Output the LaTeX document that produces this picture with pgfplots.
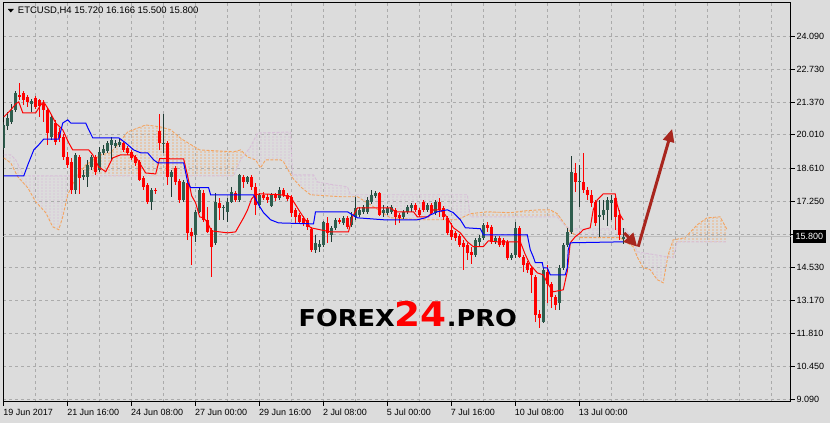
\documentclass[border=0pt]{standalone}
\usepackage{fontspec}
\setmainfont{Liberation Sans}
\newfontfamily\dejavu{DejaVu Sans}
\usepackage{graphicx}
\usepackage{xcolor}
\usepackage{pgfplots}
\pgfplotsset{compat=1.18}
\usepackage{pgfplotstable}
\usepgfplotslibrary{fillbetween}
\usetikzlibrary{patterns,arrows.meta}

\definecolor{bg}{HTML}{DCDCDC}
\definecolor{gridc}{HTML}{ABABAB}
\definecolor{sandy}{HTML}{F4A460}
\definecolor{thist}{HTML}{D8BFD8}
\definecolor{bullc}{HTML}{2F5E4E}
\definecolor{bullw}{HTML}{1F3A33}
\definecolor{arrowc}{HTML}{A8261E}
\definecolor{pricel}{HTML}{BDBDBD}
\pagecolor{bg}

\pgfdeclarepatternformonly{vhatch}{\pgfqpoint{0bp}{0bp}}{\pgfqpoint{4bp}{3bp}}{\pgfqpoint{4bp}{3bp}}{%
  \pgfsetlinewidth{0.8bp}%
  \pgfpathmoveto{\pgfqpoint{2bp}{0bp}}%
  \pgfpathlineto{\pgfqpoint{2bp}{2bp}}%
  \pgfusepath{stroke}}

\pgfplotstableread{
i o h l c
0 19.47 20.54 19.39 20.42
1 20.38 20.96 20.21 20.71
2 20.54 21.29 20.46 21.04
3 21.04 21.82 20.96 21.74
4 21.66 22.15 21.45 21.57
5 21.74 21.82 21.24 21.45
6 21.57 21.66 21.16 21.37
7 21.29 21.49 20.96 21.41
8 21.53 21.61 21.08 21.16
9 21.45 21.49 20.75 21.20
10 21.29 21.45 20.54 21.04
11 21.04 21.12 19.60 20.09
12 19.93 20.83 19.80 20.75
13 20.50 20.63 19.60 19.72
14 20.13 20.30 19.72 19.88
15 19.93 20.05 18.98 19.10
16 19.10 19.31 18.65 18.77
17 18.90 19.06 17.58 17.74
18 17.74 19.27 17.58 19.18
19 19.10 19.18 17.58 18.24
20 18.28 18.57 18.15 18.36
21 18.28 18.98 17.87 18.77
22 18.69 19.18 18.57 19.10
23 19.10 19.18 18.36 18.48
24 18.57 19.51 18.48 19.31
25 19.27 19.60 19.18 19.43
26 19.35 19.76 19.27 19.68
27 19.60 19.93 18.98 19.80
28 19.55 19.80 19.47 19.68
29 19.60 19.84 19.51 19.72
30 19.68 19.76 19.31 19.39
31 19.47 19.55 19.18 19.27
32 19.31 19.39 18.98 19.06
33 19.10 19.18 18.73 18.85
34 18.90 18.98 18.11 18.15
35 18.24 18.32 17.74 17.87
36 17.95 18.03 17.17 17.25
37 17.25 17.82 16.92 17.74
38 17.74 17.82 17.58 17.70
39 20.17 20.88 19.39 19.68
40 19.64 20.88 19.27 19.68
41 19.68 19.76 17.95 18.28
42 18.28 18.57 17.45 18.48
43 18.65 18.73 17.95 18.07
44 18.11 18.20 17.21 17.33
45 17.33 18.15 17.25 18.07
46 18.03 18.11 15.68 15.97
47 16.01 16.18 14.65 15.85
48 15.89 16.92 15.60 16.84
49 16.84 17.82 16.79 17.74
50 17.62 17.74 16.42 16.51
51 16.51 17.04 15.97 16.01
52 16.09 16.18 14.16 15.39
53 15.56 17.62 15.48 17.25
54 17.21 17.41 16.51 17.00
55 17.00 17.12 16.51 17.04
56 16.84 17.41 16.42 17.25
57 17.25 17.87 17.21 17.66
58 17.62 17.70 17.25 17.33
59 17.33 18.40 17.25 18.36
60 18.28 18.36 17.82 18.07
61 18.07 18.32 17.99 18.28
62 18.28 18.36 17.74 17.87
63 17.87 18.03 16.71 17.12
64 17.12 17.62 17.00 17.54
65 17.54 17.66 17.33 17.41
66 17.45 17.58 17.21 17.33
67 17.08 17.62 17.04 17.54
68 17.54 17.62 17.29 17.41
69 17.41 17.87 17.33 17.74
70 17.74 17.82 17.45 17.54
71 17.54 17.62 17.29 17.37
72 17.45 17.54 16.63 16.79
73 16.92 17.00 16.38 16.63
74 16.71 16.79 16.34 16.42
75 16.59 16.67 16.26 16.38
76 16.51 16.59 16.09 16.22
77 16.14 16.22 15.19 15.27
78 15.27 15.89 15.15 15.56
79 15.39 15.68 15.19 15.52
80 15.48 16.46 15.39 16.42
81 16.38 16.63 15.56 15.97
82 15.89 16.26 15.60 16.18
83 16.18 16.59 16.09 16.51
84 16.51 16.59 16.34 16.42
85 16.38 16.67 16.30 16.59
86 16.59 16.67 16.14 16.22
87 16.30 16.84 16.22 16.63
88 16.63 17.45 16.51 17.00
89 16.71 17.04 16.63 16.92
90 16.84 17.12 16.75 17.04
91 16.84 17.45 16.75 17.33
92 17.25 17.74 17.17 17.54
93 17.49 17.70 17.41 17.62
94 17.62 17.66 16.67 16.71
95 16.79 17.12 16.63 16.92
96 16.79 17.08 16.71 17.00
97 16.84 17.12 16.75 17.04
98 16.92 17.00 16.30 16.63
99 16.71 16.79 16.38 16.59
100 16.63 16.92 16.55 16.84
101 16.84 17.12 16.75 17.04
102 17.00 17.21 16.84 17.12
103 17.12 17.21 16.84 16.92
104 16.92 17.00 16.63 16.71
105 17.25 17.33 16.84 16.92
106 16.92 17.21 16.84 17.12
107 17.12 17.21 16.71 16.79
108 16.79 17.33 16.71 17.25
109 17.25 17.41 16.63 16.92
110 17.00 17.08 16.51 16.63
111 16.59 16.67 15.89 15.97
112 16.09 16.38 15.68 15.81
113 15.97 16.05 15.64 15.76
114 15.85 15.93 15.39 15.48
115 15.56 15.68 14.45 15.39
116 15.48 15.56 14.86 15.15
117 15.19 15.39 14.69 15.06
118 15.06 15.76 14.98 15.68
119 15.60 15.89 15.39 15.76
120 15.76 16.38 15.68 16.30
121 16.30 16.42 16.01 16.18
122 16.22 16.30 15.52 15.60
123 15.60 15.85 15.52 15.76
124 15.76 15.85 15.39 15.48
125 15.68 15.76 15.39 15.48
126 15.60 15.68 14.86 14.94
127 14.94 15.15 14.86 15.06
128 15.06 16.42 14.94 16.18
129 16.18 16.26 14.94 14.98
130 14.98 15.06 14.36 14.65
131 14.73 14.82 14.32 14.45
132 14.53 14.61 13.50 14.24
133 14.16 14.24 12.30 12.59
134 12.63 12.80 12.06 12.47
135 12.30 14.53 12.26 14.45
136 14.36 14.65 13.09 13.87
137 13.87 13.95 12.88 13.33
138 13.33 13.42 12.80 13.00
139 13.09 14.65 12.80 14.53
140 14.53 15.56 14.45 15.48
141 15.48 16.18 15.39 16.01
142 16.01 19.14 15.93 18.48
143 18.44 18.85 17.66 18.07
144 18.07 18.77 17.04 18.11
145 18.07 19.27 17.62 17.74
146 17.74 17.87 17.33 17.54
147 17.54 17.74 17.04 17.21
148 17.25 17.33 16.26 16.38
149 16.63 17.33 15.81 16.71
150 16.71 17.33 16.51 16.92
151 16.92 17.45 16.26 17.33
152 17.21 17.54 16.51 17.33
153 17.41 17.49 16.09 16.63
154 16.71 16.92 15.68 15.89
155 15.72 16.166 15.50 15.80
}\candles

\pgfplotstableread{
i p
0 19.06
1.75 18.85
3.5 18.28
6 17.83
8 17.25
10.5 16.80
12.25 16.22
13.75 16.10
14.75 16.63
16 17.54
18 18.24
20.5 18.77
24.25 19.19
26.75 19.27
31 20.13
35.5 20.42
39.25 20.34
41.75 20.22
44.5 19.84
49 19.39
57.5 19.31
59.25 19.39
61 19.10
63 18.98
64.25 18.65
65.5 18.98
69.25 18.98
70 18.90
72.25 18.24
74.25 17.87
76.75 17.54
84.25 17.46
88.5 17.46
91.75 17.13
96.75 16.59
104.25 16.51
113.5 16.51
116.75 16.76
121 16.84
126.75 16.80
130.5 16.88
134.25 16.92
136.75 16.92
138.5 16.76
140.5 16.30
141.75 16.01
144.25 15.77
154.25 15.77
156 15.56
157.5 15.40
158.5 14.98
160 14.53
161.75 14.45
163.5 14.04
165 13.91
166.25 15.07
167.5 15.68
170.5 15.77
173.5 16.30
176 16.59
179.25 16.63
181 16.10
}\spanA

\pgfplotstableread{
i p
0 19.19
1.75 19.19
3 18.98
4.25 18.57
5 18.32
57.5 18.32
59.25 18.98
61.75 19.52
63.5 20.09
71.75 20.13
72.25 18.36
77.5 18.36
78.5 18.07
82.5 17.95
86 17.87
86.75 17.54
116 17.54
116.75 16.63
138.5 16.63
140.5 16.26
141.75 16.14
155.5 16.14
157.25 15.68
158.5 15.19
167.5 14.94
168.5 15.60
181 15.60
}\spanB

\pgfplotstableread{
i p
0 20.75
1.75 21.04
3 21.29
3.75 21.37
4.75 20.92
8 20.92
9.25 21.25
10 21.37
11.25 21.04
13 20.50
14.75 20.22
16.25 19.68
17.25 19.39
21.25 19.39
22.25 19.19
23.75 18.69
25.5 18.49
27.25 19.06
29.25 19.19
32.25 19.19
33.5 18.98
35.5 18.44
38 18.40
39 19.03
45 19.02
46 18.32
47 17.50
48 17.21
49 16.63
50 16.59
51 16.38
52 16.05
56 15.97
58 16.01
59 16.30
60 16.59
61 16.92
62 17.37
63 17.54
64.25 17.58
69.25 17.54
71.75 17.46
73 17.13
74.25 16.80
76.75 16.18
81.75 16.01
86.25 16.01
87.25 16.63
88.5 17.00
96.75 17.00
98 16.84
102.5 16.84
103.5 16.63
106.25 16.63
107.5 16.92
109.25 16.92
110.5 16.71
112.5 16.18
114.25 15.97
116 15.60
117.5 15.40
120 15.40
121.25 15.64
123.5 15.60
129.25 15.60
130.5 15.07
131.75 14.65
133.5 14.32
135 14.24
136 13.91
137.5 13.54
140 13.62
141 14.37
141.75 15.56
143 15.81
144.25 15.97
145 16.10
146.75 16.18
147.5 16.92
148.5 17.33
150 17.58
153 17.58
153.5 17.13
154.25 16.71
155 16.50
}\tenkan

\pgfplotstableread{
i p
0 18.32
5 18.32
6 18.77
7.5 19.39
8.75 19.60
10 19.84
13.75 19.84
14.75 20.50
16 20.63
16.75 20.50
20.5 20.50
21.25 20.22
22.25 19.89
28.75 19.89
30.5 19.68
32.5 19.39
34.25 19.27
36 19.27
37.5 18.98
38.5 18.86
45 18.86
46 18.07
46.75 17.83
51.25 17.83
51.75 17.54
62.5 17.54
63.75 17.13
65 16.80
66.75 16.51
68.75 16.38
77.5 16.34
78 16.84
86 16.84
87.25 16.71
88.5 16.59
95 16.51
103.5 16.51
105.5 16.59
106.75 16.71
108.5 16.84
111 16.92
112.5 16.80
114.25 16.51
115.5 16.18
119.25 16.14
120 15.89
131 15.89
131.75 15.27
132.5 14.98
133 14.74
134.75 14.74
135 14.53
136 14.53
136.75 14.24
140.5 14.24
141 14.53
141.25 15.27
141.75 15.56
155 15.60
}\kijun

\begin{document}
\begin{tikzpicture}
\path (0,0) rectangle (830bp,423bp);
\begin{axis}[
  at={(2.5bp,21bp)}, anchor=south west,
  scale only axis, width=788bp, height=399.5bp,
  xmin=-0.125, xmax=196.875, ymin=9.01, ymax=25.47,
  axis line style={black, line width=1bp},
  xtick={0,16,32,48,64,80,96,112,128,144},
  xticklabels={19 Jun 2017,21 Jun 16:00,24 Jun 08:00,27 Jun 00:00,29 Jun 16:00,2 Jul 08:00,5 Jul 00:00,7 Jul 16:00,10 Jul 08:00,13 Jul 00:00},
  minor xtick={8,24,40,56,72,88,104,120,136,152,160,168,176,184,192},
  ytick={24.09,22.73,21.37,20.01,18.61,17.25,15.89,14.53,13.17,11.81,10.45,9.09},
  yticklabels={24.090,22.730,21.370,20.010,18.610,17.250,{},14.530,13.170,11.810,10.450,9.090},
  xtick pos=left, ytick pos=right, yticklabel pos=right,
  tick align=outside, major tick length=4bp, minor tick length=0bp,
  tick style={black, line width=0.8bp},
  xmajorgrids, xminorgrids, ymajorgrids,
  major grid style={gridc, dash pattern=on 3bp off 3bp, line width=0.8bp},
  minor grid style={gridc, dash pattern=on 3bp off 3bp, line width=0.8bp},
  ticklabel style={font=\fontsize{9bp}{10bp}\selectfont, text=black},
  xticklabel style={anchor=north west, xshift=-4bp},
  yticklabel style={xshift=-1.5bp},
]
% Ichimoku cloud (Senkou spans)
\addplot[draw=none, forget plot, name path=SA] table[x=i, y=p] {\spanA};
\addplot[draw=none, forget plot, name path=SB] table[x=i, y=p] {\spanB};
\addplot[draw=none, forget plot, pattern=vhatch, pattern color=sandy]
  fill between[of=SA and SB, split,
    every even segment/.style={pattern=vhatch, pattern color=thist},
    every odd segment/.style={pattern=vhatch, pattern color=sandy}];
\addplot[sandy, line width=0.9bp, dash pattern=on 3bp off 1.5bp, forget plot] table[x=i, y=p] {\spanA};
\addplot[thist, line width=0.9bp, dash pattern=on 3bp off 1.5bp, forget plot] table[x=i, y=p] {\spanB};
% current price line
\addplot[pricel, line width=1bp, forget plot] coordinates {(-1,15.8) (198,15.8)};
% candles: wicks
\addplot[draw=none, mark=none, forget plot, restrict expr to domain={\thisrow{c}-\thisrow{o}}{0:100},
  error bars/.cd, y dir=both, y explicit, error mark=none,
  error bar style={draw=bullw, line width=1bp, solid}]
  table[x=i, y expr={(\thisrow{h}+\thisrow{l})/2}, y error expr={(\thisrow{h}-\thisrow{l})/2}] {\candles};
\addplot[draw=none, mark=none, forget plot, restrict expr to domain={\thisrow{c}-\thisrow{o}}{-100:-0.00001},
  error bars/.cd, y dir=both, y explicit, error mark=none,
  error bar style={draw=red, line width=1bp, solid}]
  table[x=i, y expr={(\thisrow{h}+\thisrow{l})/2}, y error expr={(\thisrow{h}-\thisrow{l})/2}] {\candles};
% candles: bodies
\addplot[draw=none, mark=none, forget plot, restrict expr to domain={\thisrow{c}-\thisrow{o}}{0:100},
  error bars/.cd, y dir=both, y explicit, error mark=none,
  error bar style={draw=bullc, line width=3bp, solid}]
  table[x=i, y expr={(\thisrow{o}+\thisrow{c})/2}, y error expr={abs(\thisrow{c}-\thisrow{o})/2}] {\candles};
\addplot[draw=none, mark=none, forget plot, restrict expr to domain={\thisrow{c}-\thisrow{o}}{-100:-0.00001},
  error bars/.cd, y dir=both, y explicit, error mark=none,
  error bar style={draw=red, line width=3bp, solid}]
  table[x=i, y expr={(\thisrow{o}+\thisrow{c})/2}, y error expr={abs(\thisrow{c}-\thisrow{o})/2}] {\candles};
% Tenkan / Kijun
\addplot[red, line width=1bp, forget plot] table[x=i, y=p] {\tenkan};
\addplot[blue, line width=1bp, forget plot] table[x=i, y=p] {\kijun};
% arrows
\draw[arrowc, line width=3bp, -{Triangle[length=13bp,width=13bp]}] (axis cs:155.25,15.97) -- (axis cs:158.5,15.40);
\draw[arrowc, line width=3bp, -{Triangle[length=13bp,width=11bp]}] (axis cs:158.75,15.40) -- (axis cs:167.25,20.26);
\end{axis}
% header
\fill[black] (7bp,414bp) -- (13bp,414bp) -- (10bp,410.5bp) -- cycle;
\node[anchor=base west, inner sep=0pt, font=\fontsize{9.5bp}{11bp}\selectfont] at (17bp,409bp) {ETCUSD,H4 15.720 16.166 15.500 15.800};
% current price label
\node[fill=black, text=white, inner xsep=3bp, inner ysep=0bp, minimum height=13bp, anchor=west, font=\fontsize{9bp}{10bp}\selectfont] at (792.5bp,186.5bp) {15.800};
% watermark
\node[anchor=base west, inner sep=0pt] at (298bp,96bp) {\scalebox{1.1}[1]{\dejavu\bfseries\fontsize{23.3bp}{24bp}\selectfont FOREX\textcolor{red}{\fontsize{34bp}{35bp}\selectfont 24}.PRO}};
\end{tikzpicture}
\end{document}
